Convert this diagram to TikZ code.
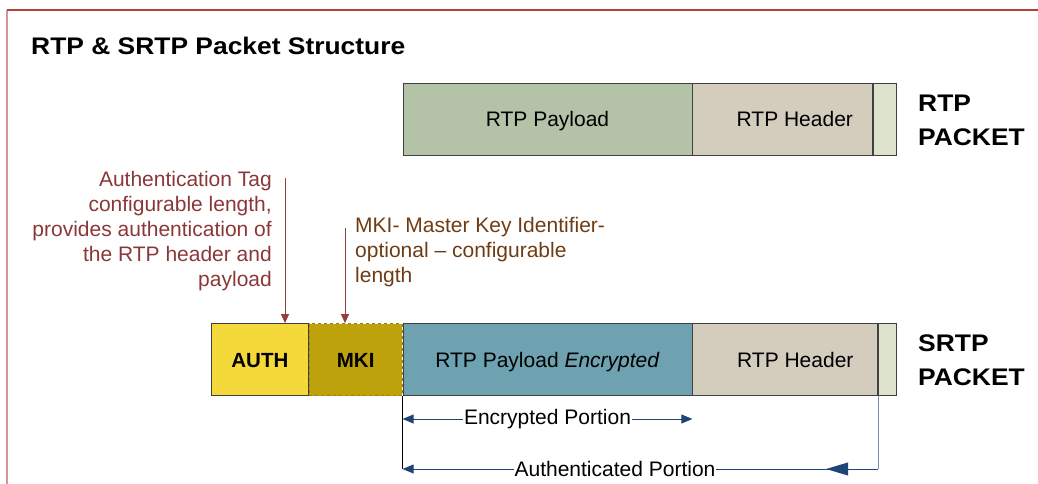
\documentclass[tikz,border=0pt]{standalone}
\usepackage{fontspec}
\setmainfont{Liberation Sans}
\newfontfamily\headfont{Liberation Sans}[FakeStretch=1.1]
\usetikzlibrary{arrows.meta}

\definecolor{framered}{RGB}{181,64,58}
\definecolor{framepink}{RGB}{212,150,150}
\definecolor{payloadgreen}{RGB}{180,194,168}
\definecolor{headertan}{RGB}{212,205,190}
\definecolor{tailgreen}{RGB}{222,227,205}
\definecolor{authyellow}{RGB}{245,217,58}
\definecolor{mkiolive}{RGB}{189,162,12}
\definecolor{mkiedge}{RGB}{150,128,20}
\definecolor{encteal}{RGB}{110,162,176}
\definecolor{boxedge}{RGB}{64,64,64}
\definecolor{authnote}{RGB}{140,55,55}
\definecolor{mkinote}{RGB}{110,60,20}
\definecolor{noteline}{RGB}{150,60,60}
\definecolor{spanblue}{RGB}{31,68,120}
\definecolor{spanline}{RGB}{120,140,170}

\tikzset{
  field/.style={draw=boxedge, line width=0.8pt, inner sep=0pt, minimum height=72pt,
    text height=16pt, text depth=0pt, font=\fontsize{21}{25}\selectfont},
  tagtext/.style={font=\fontsize{20.5}{25}\bfseries\selectfont},
  packetlabel/.style={anchor=base west, inner sep=0pt, align=left,
    font=\headfont\fontsize{24}{33.4}\bfseries\selectfont},
  note/.style={inner sep=0pt, font=\fontsize{21}{25}\selectfont},
  notearrow/.style={draw=noteline, line width=0.8pt, -{Triangle[width=8pt,length=9pt]}},
  span/.style={draw=spanblue, line width=0.8pt},
  spanlabel/.style={fill=white, inner sep=1pt, font=\fontsize{21}{25}\selectfont},
}

\begin{document}
\begin{tikzpicture}[x=1pt,y=-1pt]
  \useasboundingbox (0,0) rectangle (1038,484);

  % slide frame
  \draw[framepink, line width=1.6pt] (7,484) -- (7,10);
  \draw[framered, line width=1.6pt] (7,10) -- (1038,10);

  % title
  \node[anchor=base west, inner sep=0pt, font=\headfont\fontsize{24}{30}\bfseries\selectfont]
    (title) at (31,55) {RTP \& SRTP Packet Structure};

  % RTP packet
  \node[field, fill=payloadgreen, minimum width=289pt] (rtppay) at (547.5,119) {RTP Payload};
  \node[field, fill=headertan, minimum width=180pt, anchor=west] (rtphdr) at (rtppay.east)
    {\hspace*{24pt}RTP Header};
  \node[field, fill=tailgreen, minimum width=23pt, anchor=west] (rtptail) at (rtphdr.east) {};
  \node[packetlabel] (rtplabel) at (918,145) {RTP\\PACKET};

  % SRTP packet
  \node[field, fill=encteal, minimum width=289pt] (srtppay) at (547.5,359.5)
    {RTP Payload \textit{Encrypted}};
  \node[field, fill=headertan, minimum width=185pt, anchor=west] (srtphdr) at (srtppay.east)
    {\hspace*{20pt}RTP Header};
  \node[field, fill=tailgreen, minimum width=18pt, anchor=west] (srtptail) at (srtphdr.east) {};
  \node[field, tagtext, draw=mkiedge, dashed, fill=mkiolive, minimum width=93pt, anchor=east]
    (mki) at (srtppay.west) {MKI};
  \node[field, tagtext, fill=authyellow, minimum width=97pt, anchor=east] (auth) at (mki.west) {AUTH};
  \node[packetlabel] (srtplabel) at (918,385) {SRTP\\PACKET};

  % annotations
  \node[note, text=authnote, align=right, anchor=north east] (authnote) at (272,171)
    {Authentication Tag\\configurable length,\\provides authentication of\\the RTP header and\\payload};
  \node[note, text=mkinote, align=left, anchor=north west] (mkinote) at (355,217)
    {MKI- Master Key Identifier-\\optional -- configurable\\length};
  \coordinate (authtop) at (285,178);
  \coordinate (mkitop) at (345,228);
  \draw[notearrow] (authtop) -- (authtop |- auth.north);
  \draw[notearrow] (mkitop) -- (mkitop |- mki.north);

  % encrypted span
  \coordinate (encL) at (srtppay.south west |- 0,419);
  \coordinate (encR) at (srtppay.south east |- 0,419);
  \draw[span, {Triangle[width=9pt,length=11pt]}-{Triangle[width=9pt,length=11pt]}] (encL) -- (encR)
    node[midway, spanlabel] (enclabel) {Encrypted Portion};

  % authenticated span
  \coordinate (authL) at (srtppay.south west |- 0,469);
  \coordinate (authR) at (srtphdr.south east |- 0,469);
  \draw[black, line width=0.6pt] (srtppay.south west) -- (authL);
  \draw[spanline, line width=0.8pt] (srtphdr.south east) -- (authR);
  \draw[span, -{Triangle[width=9pt,length=11pt]}] (authR) -- (authL);
  \draw[span, -{Triangle[width=13pt,length=22pt]}] (authR) -- ++(-52,0);
  \node[spanlabel] (authlabel) at (615,469) {Authenticated Portion};
\end{tikzpicture}
\end{document}
